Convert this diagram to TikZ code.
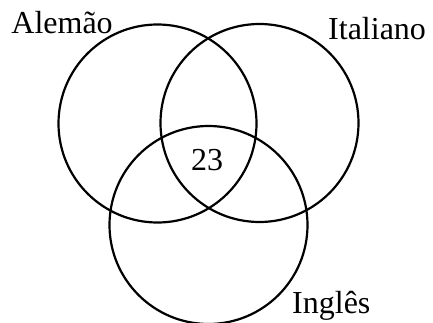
\documentclass[tikz,border=0pt]{standalone}
\usepackage{fontspec}
\setmainfont{Liberation Serif}
\begin{document}
\begin{tikzpicture}[x=1pt,y=-1pt,
  setc/.style={circle,draw,line width=2.2pt,minimum size=198pt,inner sep=0pt},
  lbl/.style={anchor=base west,inner sep=0pt,font=\fontsize{32}{32}\selectfont}]
\useasboundingbox (0,0) rectangle (433,323);
\node[setc] (A) at (157.5,123.5) {};
\node[setc] (I) at (259.5,123) {};
\node[setc] (E) at (208.5,225) {};
\node[lbl] (la) at (11.2,33.3) {Alemão};
\node[lbl] (li) at (328,40) {Italiano};
\node[lbl] (le) at (292,313) {Inglês};
\node[lbl] (n) at (191,170) {23};
\end{tikzpicture}
\end{document}
